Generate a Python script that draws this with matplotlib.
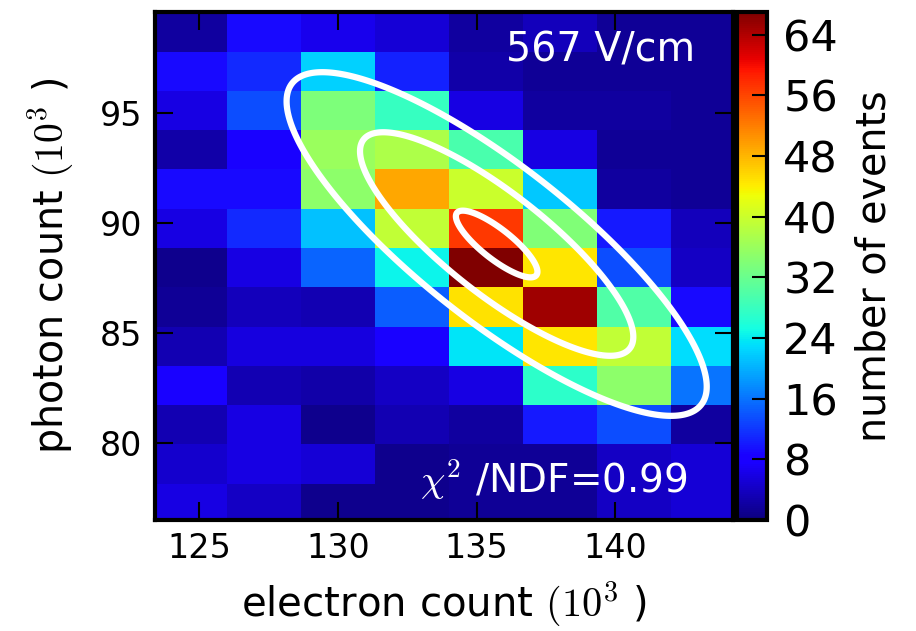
import numpy as np
import matplotlib
matplotlib.use("Agg")
import matplotlib.pyplot as plt
from matplotlib.colors import ListedColormap

plt.rcParams['mathtext.fontset'] = 'cm'
plt.rcParams['font.family'] = 'DejaVu Sans'

# histogram bin edges (10^3 counts)
x_edges = np.linspace(123.33, 144.67, 9)    # electron count
y_edges = np.linspace(76.34, 99.61, 14)     # photon count

# number of events per bin, rows listed from top (high photon count) to bottom
counts_top_down = np.array([
    [2.0, 9.0, 6.5, 5.0, 2.0, 3.5, 1.5, 1.5],
    [9.0, 11.0, 22.0, 10.5, 2.5, 1.5, 1.5, 1.5],
    [6.0, 13.5, 33.5, 28.0, 6.0, 2.0, 2.0, 1.5],
    [2.5, 8.5, 36.0, 37.5, 29.5, 6.0, 1.5, 1.5],
    [9.0, 9.0, 35.0, 49.0, 40.0, 21.5, 2.0, 1.5],
    [6.0, 11.0, 21.0, 39.0, 57.0, 34.0, 10.0, 3.5],
    [1.0, 6.0, 15.0, 24.5, 67.0, 44.5, 13.5, 4.0],
    [1.5, 3.5, 3.0, 14.5, 45.0, 65.0, 30.0, 9.0],
    [3.0, 5.5, 5.5, 8.5, 23.5, 44.5, 39.0, 23.0],
    [8.5, 3.0, 2.5, 4.0, 6.0, 27.0, 35.0, 16.0],
    [3.0, 6.0, 1.0, 3.0, 2.0, 10.0, 13.5, 2.0],
    [4.5, 6.0, 5.0, 1.0, 1.5, 1.5, 4.0, 5.0],
    [6.0, 4.0, 1.0, 1.0, 1.5, 1.5, 4.0, 5.0],
])
counts = np.flipud(counts_top_down)

# 2D gaussian fit parameters and contour levels (in units of sigma)
fit_mu_x, fit_mu_y = 135.72, 89.05
fit_sigma_x, fit_sigma_y = 1.47, 1.52
fit_rho = -0.83
contour_levels = [1.0, 3.35, 5.15]

x_ticks = [125, 130, 135, 140]
y_ticks = [80, 85, 90, 95]
cbar_ticks = [0, 8, 16, 24, 32, 40, 48, 56, 64]

# jet with the slightly violet blues of the original rendering
cols = plt.get_cmap('jet')(np.linspace(0, 1, 256))
cols[:, 0] = np.maximum(cols[:, 0], 0.1 * cols[:, 2] * (1 - cols[:, 1])**2)
cmap = ListedColormap(cols)

fig = plt.figure(figsize=(9.16, 6.31), dpi=100)
ax = fig.add_axes([0.169, 0.176, 0.631, 0.805])
cax = fig.add_axes([0.805, 0.176, 0.032, 0.805])

mesh = ax.pcolormesh(x_edges, y_edges, counts, cmap=cmap, vmin=0, vmax=67)

# contours of the fitted gaussian
gx = np.linspace(x_edges[0], x_edges[-1], 500)
gy = np.linspace(y_edges[0], y_edges[-1], 500)
GX, GY = np.meshgrid(gx, gy)
dx = (GX - fit_mu_x) / fit_sigma_x
dy = (GY - fit_mu_y) / fit_sigma_y
dist = np.sqrt((dx**2 - 2 * fit_rho * dx * dy + dy**2) / (1 - fit_rho**2))
ax.contour(GX, GY, dist, levels=contour_levels, colors='white', linewidths=4.5)

ax.set_xlim(123.4, 144.23)
ax.set_ylim(76.48, 99.62)
ax.set_xticks(x_ticks)
ax.set_yticks(y_ticks)
ax.tick_params(direction='in', length=13, width=1.5, top=True, right=True,
               labelsize=24, pad=9)
for sp in ax.spines.values():
    sp.set_linewidth(3)

ax.set_xlabel(r'electron count $(10^3$ )', fontsize=29, labelpad=10)
ax.set_ylabel(r'photon count $(10^3$ )', fontsize=28.5, labelpad=17)

ax.text(0.934, 0.902, '567 V/cm', transform=ax.transAxes, color='white',
        fontsize=28.5, ha='right', va='baseline')
ax.text(0.922, 0.053, r'$\chi^2$ /NDF=0.99', transform=ax.transAxes,
        color='white', fontsize=28, ha='right', va='baseline')

cbar = fig.colorbar(mesh, cax=cax, ticks=cbar_ticks)
cbar.ax.tick_params(direction='in', length=11, width=1.5, labelsize=31, pad=12)
cbar.outline.set_linewidth(3)
cbar.set_label('number of events', fontsize=28.5, labelpad=12)

fig.savefig('out.png', dpi=100)
